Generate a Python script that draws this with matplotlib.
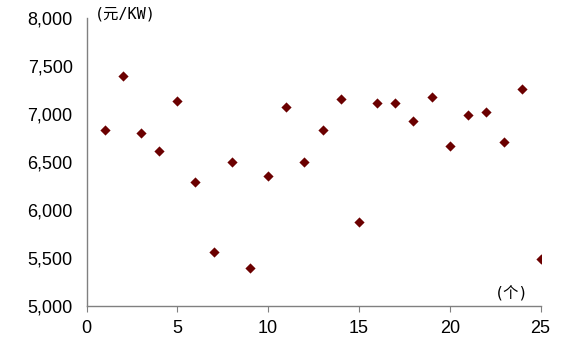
import matplotlib
matplotlib.use("Agg")
import matplotlib.pyplot as plt
from matplotlib.ticker import FuncFormatter

plt.rcParams['font.family'] = ['Liberation Sans', 'Noto Sans CJK SC', 'DejaVu Sans']

x_index = list(range(1, 26))
price = [6830, 7400, 6800, 6610, 7140, 6290, 5560, 6500, 5400, 6350,
         7075, 6500, 6830, 7155, 5880, 7120, 7120, 6925, 7175, 6670,
         6990, 7025, 6710, 7260, 5485]
x_ticks = [0, 5, 10, 15, 20, 25]
y_ticks = [5000, 5500, 6000, 6500, 7000, 7500, 8000]
y_unit = "(元/KW)"
x_unit = "(个)"

fig = plt.figure(figsize=(5.78, 3.48), dpi=100)
ax = fig.add_axes([0.1497, 0.1207, 0.7855, 0.8273])

ax.scatter(x_index, price, marker='D', s=5.2**2, color='#6B0000', zorder=3, linewidths=0)

ax.set_xlim(0, 25)
ax.set_ylim(5000, 8000)
ax.set_xticks(x_ticks)
ax.set_yticks(y_ticks)
ax.yaxis.set_major_formatter(FuncFormatter(lambda v, p: f"{int(v):,}"))

for s in ['top', 'right']:
    ax.spines[s].set_visible(False)
for s in ['left', 'bottom']:
    ax.spines[s].set_color('#808080')
    ax.spines[s].set_linewidth(1.0)

ax.tick_params(axis='x', direction='out', length=4, color='#808080', labelsize=13, pad=6)
ax.tick_params(axis='y', length=0, labelsize=13, pad=10)

unit_family = ['DejaVu Sans Mono', 'Noto Sans CJK SC']
fig.text(95/578, 1 - 14/348, y_unit, fontsize=11, family=unit_family,
         va='center', ha='left')
fig.text(512/578, 1 - 293/348, x_unit, fontsize=11, family=unit_family,
         va='center', ha='center')

fig.savefig("out.png", dpi=100)
